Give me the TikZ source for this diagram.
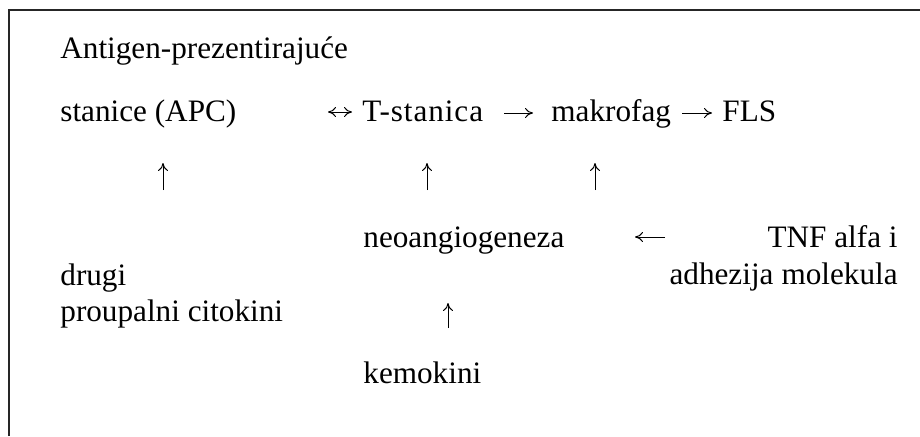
\documentclass[tikz,border=0pt]{standalone}
\usepackage{fontspec}
\setmainfont{Liberation Serif}
\usetikzlibrary{arrows.meta}
\tikzset{
  txt/.style={anchor=base west, inner sep=0pt},
  txtr/.style={anchor=base east, inner sep=0pt},
  arr/.style={-{To[length=4pt,width=5pt]}, line width=0.5pt},
  dblarr/.style={{To[length=4pt,width=5pt]}-{To[length=4pt,width=5pt]}, line width=0.5pt}
}
\begin{document}
\begin{tikzpicture}[x=0.5pt, y=-0.5pt, font=\fontsize{15.6}{18}\selectfont]
        \useasboundingbox (0,0) rectangle (920,436);

        % Frame (only top and left edges visible)
        \draw[line width=0.6pt, black!85] (9,436) -- (9,10) -- (920,10);

        % First row: APC <-> T cell -> macrophage -> FLS
        \node[txt] (apc1) at (60,58) {Antigen-prezentirajuće};
        \node[txt] (apc2) at (60,121) {stanice (APC)};
        \node[txt] (tcell) at (362,121) {\addfontfeature{LetterSpace=3}T-stanica};
        \node[txt] (makro) at (551,121) {makrofag};
        \node[txt] (fls) at (722,121) {FLS};

        % Middle block
        \node[txt] (neo) at (363,247) {neoangiogeneza};
        \node[txtr] (tnf) at (898,247) {TNF alfa i};
        \node[txt] (drugi) at (60,285) {drugi};
        \node[txtr] (adh) at (898,284) {adhezija\hspace{4pt}molekula};
        \node[txt] (cito) at (60,321) {proupalni citokini};

        % Chemokines
        \node[txt] (kemo) at (363,383) {kemokini};

        % Arrow end points
        \coordinate (d1) at (328,112);  \coordinate (d2) at (352,112);
        \coordinate (a1) at (504,113);  \coordinate (a2) at (533,113);
        \coordinate (b1) at (682,113);  \coordinate (b2) at (712,113);
        \coordinate (l1) at (665,237);  \coordinate (l2) at (635,237);
        \coordinate (u1) at (163,190);  \coordinate (u1t) at (163,163);
        \coordinate (u2) at (427,190);  \coordinate (u2t) at (427,163);
        \coordinate (u3) at (595,190);  \coordinate (u3t) at (595,163);
        \coordinate (u4) at (448,328);  \coordinate (u4t) at (448,303);

        % Arrows
        \draw[dblarr] (d1) -- (d2);
        \draw[arr] (a1) -- (a2);
        \draw[arr] (b1) -- (b2);
        \draw[arr] (l1) -- (l2);
        \draw[arr] (u1) -- (u1t);
        \draw[arr] (u2) -- (u2t);
        \draw[arr] (u3) -- (u3t);
        \draw[arr] (u4) -- (u4t);
    \end{tikzpicture}
\end{document}
